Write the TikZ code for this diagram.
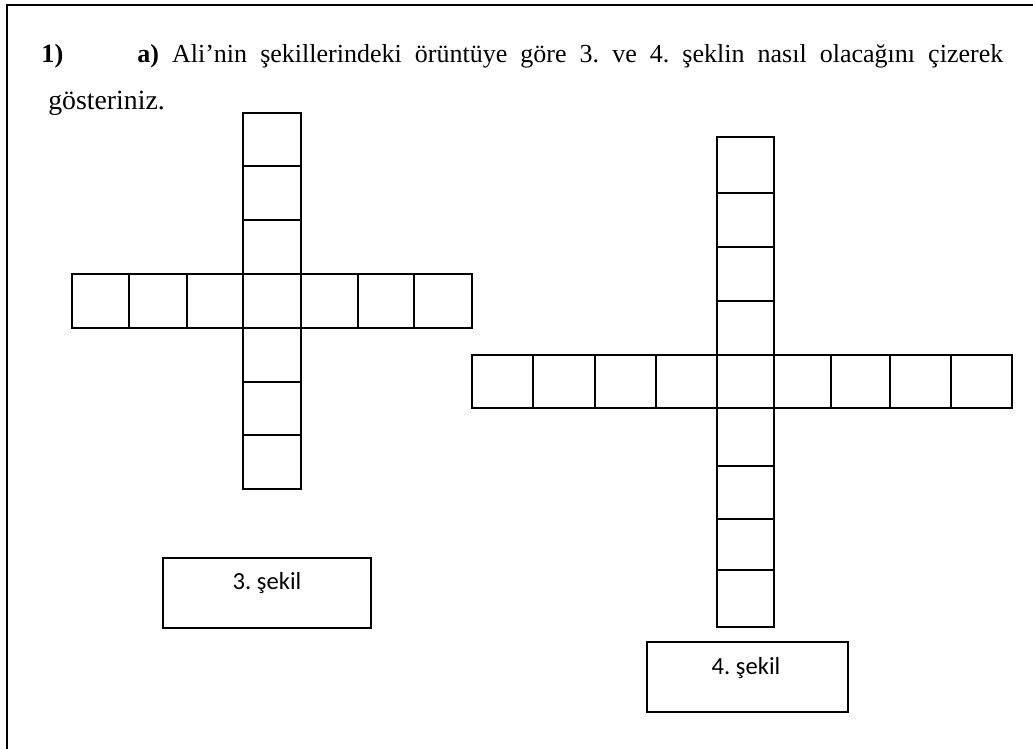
\documentclass[tikz,border=0pt]{standalone}
\usepackage{fontspec}
\setmainfont{Liberation Serif}
\newfontfamily\calibri{Carlito}
\frenchspacing
\begin{document}
\begin{tikzpicture}[x=0.02cm, y=-0.02cm,
    soru/.style={font=\fontsize{15.8}{19}\selectfont, inner sep=0pt, anchor=base west},
    sekil/.style={font=\calibri\fontsize{14}{17}\selectfont, inner sep=0pt, anchor=base},
    kare/.style={line width=1.1pt}]
    \useasboundingbox (0,0) rectangle (1033,749);

    % Çerçeve (sol ve üst)
    \draw[line width=1.25pt] (7,749) -- (7,5) -- (1033,5);

    % Soru metni
    \node[soru, font=\fontsize{15}{18}\selectfont\bfseries] (no) at (41,63) {1)};
    \node[soru, font=\fontsize{14.8}{18}\selectfont] (satir1) at (137,63) {\makebox[17.32cm][s]{\textbf{a)} Ali’nin şekillerindeki örüntüye göre 3. ve 4. şeklin nasıl olacağını çizerek}};
    \node[soru] (satir2) at (48,110) {gösteriniz.};

    % 3. şekil: dikey sütun
    \draw[kare] (243,113) rectangle (301,166);
    \draw[kare] (243,166) rectangle (301,220);
    \draw[kare] (243,220) rectangle (301,274);
    \draw[kare] (243,328) rectangle (301,382);
    \draw[kare] (243,382) rectangle (301,435);
    \draw[kare] (243,435) rectangle (301,489);

    % 3. şekil: yatay satır
    \draw[kare] (72,274) rectangle (129,328);
    \draw[kare] (129,274) rectangle (187,328);
    \draw[kare] (187,274) rectangle (243,328);
    \draw[kare] (243,274) rectangle (301,328);
    \draw[kare] (301,274) rectangle (358,328);
    \draw[kare] (358,274) rectangle (414,328);
    \draw[kare] (414,274) rectangle (472,328);

    % 4. şekil: dikey sütun
    \draw[kare] (717,137) rectangle (774,193);
    \draw[kare] (717,193) rectangle (774,247);
    \draw[kare] (717,247) rectangle (774,301);
    \draw[kare] (717,301) rectangle (774,355);
    \draw[kare] (717,408) rectangle (774,466);
    \draw[kare] (717,466) rectangle (774,519);
    \draw[kare] (717,519) rectangle (774,570);
    \draw[kare] (717,570) rectangle (774,627);

    % 4. şekil: yatay satır
    \draw[kare] (472,355) rectangle (533,408);
    \draw[kare] (533,355) rectangle (595,408);
    \draw[kare] (595,355) rectangle (656,408);
    \draw[kare] (656,355) rectangle (717,408);
    \draw[kare] (717,355) rectangle (774,408);
    \draw[kare] (774,355) rectangle (831,408);
    \draw[kare] (831,355) rectangle (890,408);
    \draw[kare] (890,355) rectangle (951,408);
    \draw[kare] (951,355) rectangle (1012,408);

    % Etiket kutuları
    \draw[kare] (163,558) rectangle (371,628);
    \node[sekil] (ad3) at (267,589) {3. şekil};
    \draw[kare] (647,642) rectangle (848,712);
    \node[sekil] (ad4) at (746,674) {4. şekil};
\end{tikzpicture}
\end{document}
